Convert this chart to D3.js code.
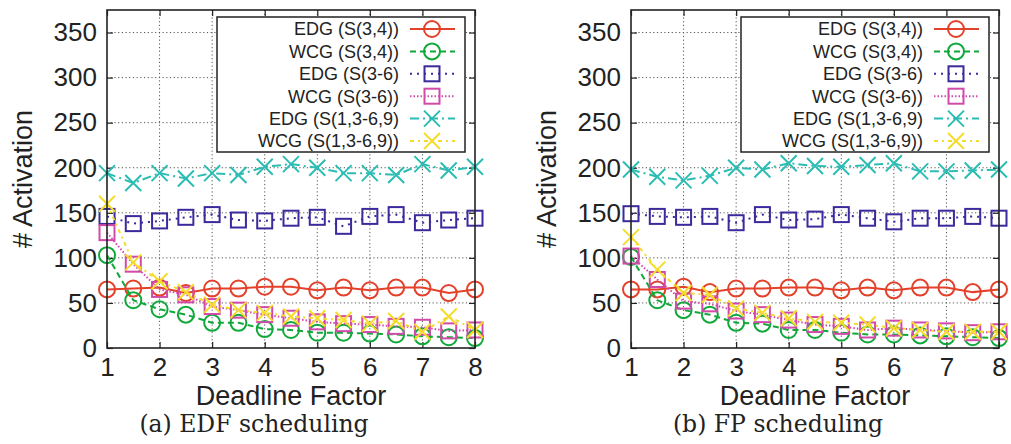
<!DOCTYPE html>
<html>
<head>
<meta charset="utf-8">
<script src="https://cdn.jsdelivr.net/npm/d3@7"></script>
<style>
  body { margin: 0; background: #fff; }
  svg { display: block; }
</style>
</head>
<body>
<div id="grafico"></div>
<script>
// Deadline factor values (x axis)
const deadlineFactor = [1, 1.5, 2, 2.5, 3, 3.5, 4, 4.5, 5, 5.5, 6, 6.5, 7, 7.5, 8];
const xTicks = [1, 2, 3, 4, 5, 6, 7, 8];
const yTicks = [0, 50, 100, 150, 200, 250, 300, 350];

const seriesNames = ["EDG (S(3,4))", "WCG (S(3,4))", "EDG (S(3-6)", "WCG (S(3-6))", "EDG (S(1,3-6,9)", "WCG (S(1,3-6,9))"];
const captions = ["(a) EDF scheduling", "(b) FP scheduling"];

// (a) EDF scheduling
const edfEdg34 = [65, 66, 67, 61, 66, 66, 68, 68, 64, 67, 64, 67, 67, 61, 65];
const edfWcg34 = [103, 53, 43, 37, 28, 28, 21, 20, 17, 17, 16, 15, 13, 12, 11];
const edfEdg36 = [146, 138, 141, 145, 148, 142, 141, 144, 145, 135, 146, 148, 139, 142, 144];
const edfWcg36 = [128, 93, 65, 59, 46, 42, 37, 33, 29, 27, 26, 24, 23, 19, 20];
const edfEdg1369 = [194, 183, 194, 188, 194, 192, 201, 204, 200, 194, 194, 192, 204, 197, 201];
const edfWcg1369 = [160, 95, 74, 62, 48, 42, 39, 35, 33, 31, 27, 30, 18, 35, 20];

// (b) FP scheduling
const fpEdg34 = [65, 65, 68, 62, 66, 66, 67, 67, 64, 67, 64, 67, 67, 62, 65];
const fpWcg34 = [101, 53, 42, 37, 28, 27, 20, 20, 17, 15, 15, 14, 13, 12, 11];
const fpEdg36 = [149, 146, 145, 146, 139, 148, 142, 143, 148, 144, 140, 144, 144, 146, 144];
const fpWcg36 = [102, 76, 52, 49, 41, 37, 31, 26, 24, 20, 22, 20, 19, 17, 18];
const fpEdg1369 = [198, 190, 186, 191, 200, 198, 205, 202, 201, 203, 205, 196, 196, 197, 198];
const fpWcg1369 = [123, 87, 61, 59, 44, 39, 33, 29, 28, 26, 22, 20, 18, 18, 18];

// Estilo de cada série
const estilos = [
  { cor: "#e4412b", traco: null,          marcador: "circle" },
  { cor: "#10a83a", traco: "6,4",         marcador: "circle" },
  { cor: "#3b2a9c", traco: "2,5",         marcador: "square" },
  { cor: "#d24aa9", traco: "1.5,2",       marcador: "square" },
  { cor: "#2bbdb3", traco: "9,4,2,4",     marcador: "cross" },
  { cor: "#f5dc2a", traco: "4,4,2,4",     marcador: "cross" }
];

const largura = 1011, altura = 444;
const svg = d3.select("#grafico").append("svg")
  .attr("width", largura)
  .attr("height", altura);

// Desenha um marcador numa posição
function desenharMarcador(g, tipo, x, y, cor) {
  if (tipo === "circle") {
    g.append("circle").attr("cx", x).attr("cy", y).attr("r", 8)
      .attr("fill", "none").attr("stroke", cor).attr("stroke-width", 2);
  } else if (tipo === "square") {
    g.append("rect").attr("x", x - 7.5).attr("y", y - 7.5).attr("width", 15).attr("height", 15)
      .attr("fill", "none").attr("stroke", cor).attr("stroke-width", 2);
  } else {
    const s = 8;
    g.append("path").attr("d", `M${x - s},${y - s}L${x + s},${y + s}M${x - s},${y + s}L${x + s},${y - s}`)
      .attr("fill", "none").attr("stroke", cor).attr("stroke-width", 2);
  }
}

function desenharPainel(offsetX, dados, legenda) {
  const margem = { left: 107 + offsetX, right: 475 + offsetX, top: 10, bottom: 348 };
  const x = d3.scaleLinear().domain([1, 8]).range([margem.left, margem.right]);
  const y = d3.scaleLinear().domain([0, 375]).range([margem.bottom, margem.top]);

  const g = svg.append("g");

  // Grade pontilhada
  g.append("g").selectAll("line").data(xTicks.slice(1, -1)).join("line")
    .attr("x1", d => x(d)).attr("x2", d => x(d))
    .attr("y1", margem.top).attr("y2", margem.bottom)
    .attr("stroke", "#555").attr("stroke-width", 1).attr("stroke-dasharray", "1.2,2.5");
  g.append("g").selectAll("line").data(yTicks.slice(1)).join("line")
    .attr("x1", margem.left).attr("x2", margem.right)
    .attr("y1", d => y(d)).attr("y2", d => y(d))
    .attr("stroke", "#555").attr("stroke-width", 1).attr("stroke-dasharray", "1.2,2.5");

  // Eixos com ticks para dentro, espelhados
  const fonte = "'Liberation Sans', Arial, Helvetica, sans-serif";
  const eixoX = g.append("g").attr("transform", `translate(0,${margem.bottom})`)
    .call(d3.axisBottom(x).tickValues(xTicks).tickSize(-6).tickPadding(10).tickFormat(d3.format("d")));
  const eixoXTopo = g.append("g").attr("transform", `translate(0,${margem.top})`)
    .call(d3.axisTop(x).tickValues(xTicks).tickSize(-6).tickFormat(""));
  const eixoY = g.append("g").attr("transform", `translate(${margem.left},0)`)
    .call(d3.axisLeft(y).tickValues(yTicks).tickSize(-6).tickPadding(10));
  const eixoYDir = g.append("g").attr("transform", `translate(${margem.right},0)`)
    .call(d3.axisRight(y).tickValues(yTicks).tickSize(-6).tickFormat(""));
  [eixoX, eixoXTopo, eixoY, eixoYDir].forEach(e => {
    e.select(".domain").remove();
    e.selectAll(".tick line").attr("stroke", "#222").attr("stroke-width", 1.2);
    e.selectAll("text").attr("font-family", fonte).attr("font-size", 26).attr("fill", "#222");
  });

  // Legenda (caixa branca por cima da grade)
  const leg = g.append("g");
  leg.append("rect")
    .attr("x", 217 + offsetX).attr("y", 17).attr("width", 248).attr("height", 135)
    .attr("fill", "#fff").attr("stroke", "#222").attr("stroke-width", 1.5);

  // Linhas e marcadores
  dados.forEach((serie, i) => {
    const est = estilos[i];
    const linha = d3.line().x((d, k) => x(deadlineFactor[k])).y(d => y(d));
    g.append("path").datum(serie).attr("d", linha)
      .attr("fill", "none").attr("stroke", est.cor).attr("stroke-width", 2)
      .attr("stroke-dasharray", est.traco);
    const gm = g.append("g");
    serie.forEach((v, k) => desenharMarcador(gm, est.marcador, x(deadlineFactor[k]), y(v), est.cor));
  });

  seriesNames.forEach((nome, i) => {
    const est = estilos[i];
    const cy = 29 + i * 22.4;
    leg.append("text").attr("x", 399 + offsetX).attr("y", cy).attr("dy", "0.35em")
      .attr("text-anchor", "end").attr("font-family", fonte).attr("font-size", 18).attr("fill", "#222")
      .text(nome);
    leg.append("line").attr("x1", 410 + offsetX).attr("x2", 455 + offsetX).attr("y1", cy).attr("y2", cy)
      .attr("stroke", est.cor).attr("stroke-width", 2).attr("stroke-dasharray", est.traco);
    desenharMarcador(leg, est.marcador, 432 + offsetX, cy, est.cor);
  });

  // Moldura
  g.append("rect").attr("x", margem.left).attr("y", margem.top)
    .attr("width", margem.right - margem.left).attr("height", margem.bottom - margem.top)
    .attr("fill", "none").attr("stroke", "#222").attr("stroke-width", 1.6);

  // Títulos dos eixos
  g.append("text").attr("x", (margem.left + margem.right) / 2).attr("y", 405)
    .attr("text-anchor", "middle").attr("font-family", fonte).attr("font-size", 27).attr("fill", "#222")
    .text("Deadline Factor");
  g.append("text").attr("transform", `translate(${32 + offsetX},179) rotate(-90)`)
    .attr("text-anchor", "middle").attr("font-family", fonte).attr("font-size", 27).attr("fill", "#222")
    .text("# Activation");

  // Legenda da subfigura
  g.append("text").attr("x", 254 + offsetX).attr("y", 432)
    .attr("text-anchor", "middle").attr("font-family", "'DejaVu Serif', serif").attr("font-size", 23.5).attr("fill", "#222")
    .text(legenda);
}

desenharPainel(0, [edfEdg34, edfWcg34, edfEdg36, edfWcg36, edfEdg1369, edfWcg1369], captions[0]);
desenharPainel(524, [fpEdg34, fpWcg34, fpEdg36, fpWcg36, fpEdg1369, fpWcg1369], captions[1]);
</script>
</body>
</html>
